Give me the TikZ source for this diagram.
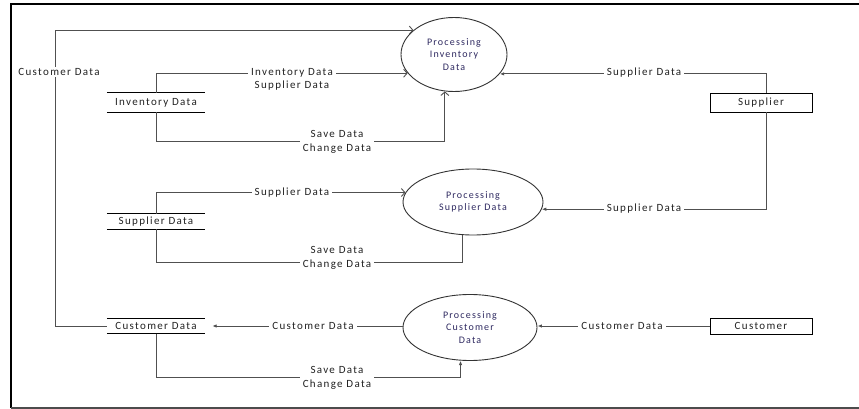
\documentclass[tikz,border=0pt]{standalone}
\usepackage{fontspec}
\setmainfont{Carlito}[LetterSpace=12]
\usetikzlibrary{arrows.meta,shapes.geometric}
\definecolor{linegray}{HTML}{505050}
\definecolor{txt}{HTML}{222222}
\definecolor{proctxt}{HTML}{2E2960}
\begin{document}
\begin{tikzpicture}[x=1pt,y=-1pt,
  proc/.style={ellipse, draw=black!80, line width=0.9pt, inner sep=0pt, align=center,
    font=\fontsize{10}{12.5}\selectfont, text=proctxt},
  ent/.style={rectangle, draw=black, line width=0.9pt, inner sep=0pt,
    font=\fontsize{11}{13}\selectfont, text=txt},
  store/.style={inner sep=0pt, minimum width=98pt, font=\fontsize{11}{13}\selectfont, text=txt,
    append after command={(\tikzlastnode.north west) edge[draw=black, line width=1pt] (\tikzlastnode.north east)
                          (\tikzlastnode.south west) edge[draw=black, line width=1pt] (\tikzlastnode.south east)}},
  lab/.style={fill=white, inner xsep=3pt, inner ysep=1pt, align=center,
    font=\fontsize{11}{13.5}\selectfont, text=txt},
  flow/.style={draw=linegray, line width=0.9pt},
  opena/.style={flow, -{Straight Barb[length=3.5pt,width=8pt]}},
  filla/.style={flow, -{Latex[length=4.5pt,width=3.5pt]}}
]
\useasboundingbox (0,0) rectangle (859,409);

% frame
\draw[line width=2pt, black] (862,4) -- (11,4) -- (11,408);
\draw[line width=1.5pt, black!70] (11,408) -- (862,408);

% processes
\node[proc, minimum width=106pt, minimum height=74pt] (p1) at (454,54.5) {Processing\\Inventory\\Data};
\node[proc, minimum width=140pt, minimum height=66pt] (p2) at (473,202) {Processing\\Supplier Data};
\node[proc, minimum width=134pt, minimum height=66pt] (p3) at (470,327.5) {Processing\\Customer\\Data};

% external entities
\node[ent, minimum width=102pt, minimum height=19pt] (sup) at (761,102.5) {Supplier};
\node[ent, minimum width=102pt, minimum height=16pt] (cus) at (761,326) {Customer};

% data stores
\node[store, minimum height=19pt] (st1) at (156,102.5) {Inventory Data};
\node[store, minimum height=15pt] (st2) at (156,221.5) {Supplier Data};
\node[store, minimum height=15pt] (st3) at (156,326) {Customer Data};

% flows
\draw[opena] (st3.west) -- ++(-51,0) |- (p1.149);
\draw[opena] (st1.north) |- (p1.202.7);
\draw[opena] (st1.south) -- ++(0,29.5) -| (p1.256.1);
\draw[filla] ([xshift=5pt]sup.north) |- (p1.337.3);
\draw[filla] ([xshift=5pt]sup.south) |- (p2.354.2);
\draw[opena] (st2.north) |- (p2.172.4);
\draw[flow] (st2.south) -- ++(0,33) -| (p2.253);
\draw[filla, shorten >=7pt] (p3.west |- st3.east) -- (st3.east);
\draw[filla] (st3.south) -- ++(0,43.5) -| (p3.254.6);
\draw[filla] (cus.west) -- (p3.east |- cus.west);

% flow labels
\node[lab] (lc1) at (59,72) {Customer Data};
\node[lab] (li1) at (292,79.5) {Inventory Data\\Supplier Data};
\node[lab] (ls1) at (337,142) {Save Data\\Change Data};
\node[lab] (lsp1) at (644,73) {Supplier Data};
\node[lab] (lsp2) at (292,193) {Supplier Data};
\node[lab] (lsp3) at (644,208.5) {Supplier Data};
\node[lab] (ls2) at (337,258) {Save Data\\Change Data};
\node[lab] (lc2) at (313,326) {Customer Data};
\node[lab] (ls3) at (337,378) {Save Data\\Change Data};
\node[lab] (lc3) at (622,326) {Customer Data};
\end{tikzpicture}
\end{document}
